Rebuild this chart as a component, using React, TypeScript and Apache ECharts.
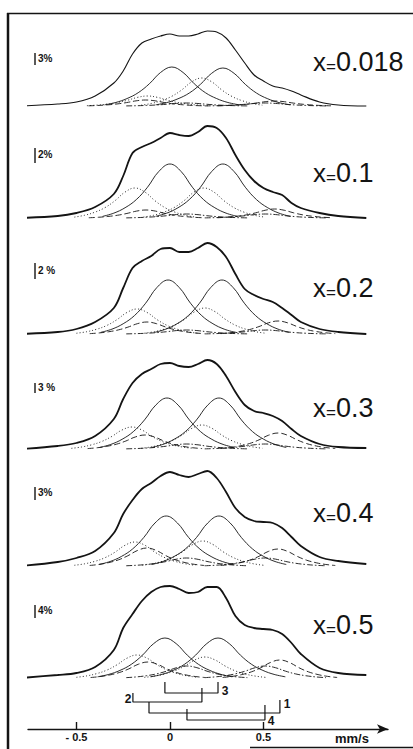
import React, { useEffect, useRef } from "react";
import * as echarts from "echarts";

// Velocity grid (mm/s) at which the measured envelopes were read
const VELOCITIES = [-0.8, -0.6, -0.5, -0.4, -0.3, -0.25, -0.2, -0.15, -0.1, -0.05, 0, 0.05, 0.1, 0.15, 0.2, 0.25, 0.3, 0.35, 0.4, 0.45, 0.5, 0.55, 0.6, 0.65, 0.7, 0.8, 0.9, 1.05];

// Measured absorption envelopes (chart units above each panel's baseline)
const ENV_0018 = [0, 2, 4, 10, 23, 35, 52, 63, 67, 70, 72, 70, 70, 72, 75, 74, 68, 56, 43, 31, 25, 20, 18, 15, 11, 4, 1, 0];
const ENV_01 = [0, 2, 5, 11, 24, 42, 65, 71, 75, 80, 85, 83, 82, 86, 92, 90, 80, 63, 48, 37, 30, 26, 23, 15, 10, 5, 2, 0];
const ENV_02 = [0, 2, 5, 12, 26, 46, 66, 73, 78, 85, 86, 82, 82, 86, 91, 87, 77, 60, 45, 39, 35, 32, 26, 19, 12, 5, 2, 0];
const ENV_03 = [0, 3, 6, 13, 30, 50, 66, 75, 80, 85, 86, 83, 82, 85, 89, 85, 73, 57, 44, 38, 36, 33, 28, 20, 13, 5, 2, 1];
const ENV_04 = [0, 4, 8, 15, 33, 52, 66, 77, 83, 90, 94, 91, 89, 92, 95, 88, 74, 58, 49, 45, 44, 43, 38, 29, 20, 9, 5, 2];
const ENV_05 = [0, 3, 5, 11, 28, 50, 64, 77, 86, 91, 92, 89, 85, 86, 91, 91, 80, 62, 53, 50, 49, 48, 44, 35, 24, 10, 5, 3];
const ENVELOPES = [ENV_0018, ENV_01, ENV_02, ENV_03, ENV_04, ENV_05];

const COMPOSITIONS = ["0.018", "0.1", "0.2", "0.3", "0.4", "0.5"];
const SCALE_LABELS = ["3%", "2%", "2 %", "3 %", "3%", "4%"];
const BASELINES = [623, 511, 395, 280, 163, 51];

// Shared single-line profile (offset in mm/s, relative depth)
const PROFILE_OFFSETS = [-0.36, -0.3, -0.24, -0.18, -0.12, -0.06, 0, 0.06, 0.12, 0.18, 0.24, 0.3, 0.36];
const PROFILE_DEPTHS = [0.03, 0.09, 0.19, 0.34, 0.57, 0.86, 1, 0.86, 0.57, 0.34, 0.19, 0.09, 0.03];

// Site 3 (solid doublet)
const S3_LEFT_POS = [0.01, 0.0, -0.01, -0.016, -0.02, -0.027];
const S3_RIGHT_POS = [0.283, 0.283, 0.278, 0.262, 0.262, 0.257];
const S3_LEFT_DEPTH = [39, 54, 54, 51, 50, 40];
const S3_RIGHT_DEPTH = [38, 54, 54, 51, 50, 40];
// Site 2 (dotted doublet)
const S2_LEFT_POS = [-0.12, -0.187, -0.176, -0.203, -0.187, -0.176];
const S2_RIGHT_POS = [0.17, 0.182, 0.187, 0.171, 0.176, 0.187];
const S2_LEFT_DEPTH = [10, 30, 25, 22, 24, 23];
const S2_RIGHT_DEPTH = [28, 30, 26, 24, 25, 21];
// Site 1 (dashed doublet)
const S1_LEFT_POS = [-0.13, -0.128, -0.123, -0.134, -0.123, -0.118];
const S1_RIGHT_POS = [0.56, 0.56, 0.578, 0.578, 0.578, 0.588];
const S1_LEFT_DEPTH = [6, 8, 12, 14, 18, 16];
const S1_RIGHT_DEPTH = [5, 9, 13, 16, 17, 18];
// Site 4 (dash-dot doublet)
const S4_LEFT_POS = [0.09, 0.09, 0.09, 0.09, 0.09, 0.09];
const S4_RIGHT_POS = [0.51, 0.51, 0.51, 0.51, 0.51, 0.51];
const S4_LEFT_DEPTH = [3, 4, 4, 5, 8, 12];
const S4_RIGHT_DEPTH = [3, 4, 4, 5, 8, 12];

// Stick diagram (line positions of each site, mm/s) and bracket levels
const BRACKET_NAMES = ["3", "2", "1", "4"];
const BRACKET_LEFT = [-0.027, -0.198, -0.112, 0.091];
const BRACKET_RIGHT = [0.257, 0.171, 0.588, 0.508];
const BRACKET_TOP_L = [47, 36, 27, 20];
const BRACKET_BOTTOM = [36, 27, 16, 9];
const BRACKET_TOP_R = [47, 41, 29, 24];

const TICK_VALUES = [-0.5, 0, 0.5];
const TICK_TEXT = ["- 0.5", "0", "0.5"];

const INK = "#141414";

export default function App() {
  const ref = useRef<HTMLDivElement>(null);
  useEffect(() => {
    if (!ref.current) return;
    const chart = echarts.init(ref.current, null, { renderer: "svg" });
    const series: any[] = [];
    const lineSeries = (data: number[][], width: number, type: any, smooth: number) => ({
      type: "line",
      data,
      symbol: "none",
      smooth,
      clip: false,
      silent: true,
      lineStyle: { color: INK, width, type },
    });
    const sites = [
      { lp: S3_LEFT_POS, rp: S3_RIGHT_POS, ld: S3_LEFT_DEPTH, rd: S3_RIGHT_DEPTH, type: "solid", w: 1 },
      { lp: S2_LEFT_POS, rp: S2_RIGHT_POS, ld: S2_LEFT_DEPTH, rd: S2_RIGHT_DEPTH, type: [1, 2.2], w: 0.9 },
      { lp: S1_LEFT_POS, rp: S1_RIGHT_POS, ld: S1_LEFT_DEPTH, rd: S1_RIGHT_DEPTH, type: [6, 3], w: 0.85 },
      { lp: S4_LEFT_POS, rp: S4_RIGHT_POS, ld: S4_LEFT_DEPTH, rd: S4_RIGHT_DEPTH, type: [6, 2, 1.5, 2], w: 0.9 },
    ];
    ENVELOPES.forEach((env, p) => {
      const base = BASELINES[p];
      series.push(lineSeries(VELOCITIES.map((v, i) => [v, base + env[i]]), p === 0 ? 1.1 : 1.8, "solid", 0.35));
      sites.forEach((s) => {
        [[s.lp[p], s.ld[p]], [s.rp[p], s.rd[p]]].forEach(([c, d]) => {
          const pts = PROFILE_OFFSETS.map((o, k) => [c + o * s.w, base + d * PROFILE_DEPTHS[k]]);
          series.push(lineSeries(pts, 0.9, s.type, 0.4));
        });
      });
    });
    BRACKET_NAMES.forEach((_, b) => {
      series.push(
        lineSeries(
          [
            [BRACKET_LEFT[b], BRACKET_TOP_L[b]],
            [BRACKET_LEFT[b], BRACKET_BOTTOM[b]],
            [BRACKET_RIGHT[b], BRACKET_BOTTOM[b]],
            [BRACKET_RIGHT[b], BRACKET_TOP_R[b]],
          ],
          1.2,
          "solid",
          0
        )
      );
    });

    const graphics: any[] = [
      { type: "line", shape: { x1: 8, y1: 13, x2: 8, y2: 749 }, style: { stroke: INK, lineWidth: 2.5 } },
      { type: "line", shape: { x1: 7, y1: 13.5, x2: 413, y2: 13.5 }, style: { stroke: INK, lineWidth: 1.6 } },
      { type: "line", shape: { x1: 250, y1: 747.5, x2: 413, y2: 747.5 }, style: { stroke: INK, lineWidth: 1.4 } },
      { type: "text", x: 335, y: 738, style: { text: "mm/s", font: "bold 13px 'Liberation Sans', Arial, sans-serif", fill: INK, textVerticalAlign: "middle" } },
    ];
    const labelY = [62, 173, 288, 408, 513, 625];
    const barTop = [53, 148, 263, 383, 487, 605];
    const barBottom = [65, 163, 279, 393, 500, 618];
    COMPOSITIONS.forEach((c, p) => {
      graphics.push({
        type: "text",
        x: 313,
        y: labelY[p],
        style: {
          text: `{x|x}{e|=}{n|${c}}`,
          rich: {
            x: { fontSize: 26, fontFamily: "'Liberation Sans', Arial, sans-serif", fill: INK },
            e: { fontSize: 17, fontFamily: "'Liberation Sans', Arial, sans-serif", fill: INK, padding: [8, 0, 0, 0] },
            n: { fontSize: 27, fontFamily: "'Liberation Sans', Arial, sans-serif", fill: INK },
          },
          textVerticalAlign: "middle",
        },
      });
      graphics.push({ type: "line", shape: { x1: 35, y1: barTop[p], x2: 35, y2: barBottom[p] }, style: { stroke: INK, lineWidth: 1.4 } });
      graphics.push({
        type: "text",
        x: 38,
        y: (barTop[p] + barBottom[p]) / 2 - 1,
        style: { text: SCALE_LABELS[p], font: "bold 10px 'Liberation Sans', Arial, sans-serif", fill: INK, textVerticalAlign: "middle" },
      });
    });
    const bracketLabelXY = [[225, 691], [128, 699], [287, 704], [271, 721]];
    BRACKET_NAMES.forEach((n, b) => {
      graphics.push({
        type: "text",
        x: bracketLabelXY[b][0],
        y: bracketLabelXY[b][1],
        style: { text: n, font: "bold 12px 'Liberation Sans', Arial, sans-serif", fill: INK, textAlign: "center", textVerticalAlign: "middle" },
      });
    });

    chart.setOption({
      animation: false,
      backgroundColor: "#ffffff",
      grid: { left: 28, right: 25, top: 0, bottom: 20, containLabel: false },
      xAxis: {
        type: "value",
        min: -0.759,
        max: 1.166,
        axisLine: { show: true, lineStyle: { color: INK, width: 1.4 }, symbol: ["none", "arrow"], symbolSize: [7, 11] },
        axisTick: { show: true, inside: true, length: 7, customValues: TICK_VALUES, lineStyle: { color: INK, width: 1.4 } },
        axisLabel: {
          show: true,
          customValues: TICK_VALUES,
          formatter: (v: number) => TICK_TEXT[TICK_VALUES.indexOf(Math.round(v * 10) / 10)] ?? "",
          color: INK,
          fontWeight: "bold",
          fontSize: 11,
          fontFamily: "'Liberation Sans', Arial, sans-serif",
          margin: 2,
        },
        splitLine: { show: false },
      },
      yAxis: { type: "value", min: 0, max: 729, show: false, splitLine: { show: false } },
      series,
      graphic: graphics,
    });
    return () => chart.dispose();
  }, []);
  return <div ref={ref} style={{ position: "absolute", left: 0, top: 0, width: 413, height: 749 }} />;
}
